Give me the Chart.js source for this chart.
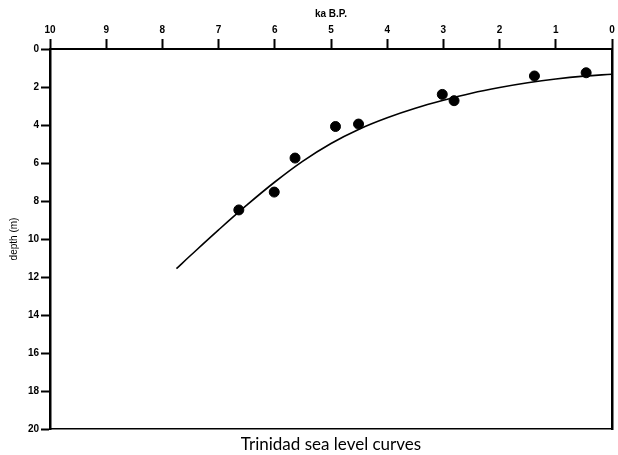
<!DOCTYPE html>
<html>
<head>
<meta charset="utf-8">
<script src="https://cdn.jsdelivr.net/npm/chart.js@4.4.0/dist/chart.umd.min.js"></script>
<style>
  body { margin: 0; background: #fff; }
</style>
</head>
<body>
<canvas id="myChart" width="618" height="455"></canvas>
<script>
// DATA - ages in ka B.P., depth in m
const sampleAge = [6.64, 6.01, 5.64, 4.92, 4.51, 3.02, 2.81, 1.38, 0.46];
const sampleDepth = [8.47, 7.53, 5.74, 4.08, 3.95, 2.39, 2.72, 1.42, 1.25];

// curve (oldest -> youngest)
const curveAge = [7.75, 7.5, 7.0, 6.5, 6.0, 5.5, 5.0, 4.5, 4.0, 3.5, 3.0, 2.5, 2.0, 1.5, 1.0, 0.5, 0];
const curveDepth = [11.56, 10.87, 9.52, 8.22, 7.0, 5.9, 4.97, 4.22, 3.62, 3.12, 2.7, 2.33, 2.03, 1.78, 1.58, 1.43, 1.33];

const ageTicks = [0, 1, 2, 3, 4, 5, 6, 7, 8, 9, 10];
const depthTicks = [0, 2, 4, 6, 8, 10, 12, 14, 16, 18, 20];

const toPoints = (xs, ys) => xs.map((x, i) => ({ x: x, y: ys[i] }));

const tickFont = { family: 'Liberation Sans', size: 10, weight: 'bold' };

const data = {
  datasets: [
    {
      type: 'line',
      label: 'curve',
      data: toPoints(curveAge, curveDepth),
      borderColor: '#000',
      borderWidth: 1.6,
      pointRadius: 0,
      tension: 0.4,
      fill: false
    },
    {
      type: 'scatter',
      label: 'samples',
      data: toPoints(sampleAge, sampleDepth),
      backgroundColor: '#000',
      borderColor: '#000',
      pointRadius: 5,
      pointHoverRadius: 5
    }
  ]
};

const config = {
  type: 'scatter',
  data,
  options: {
    responsive: false,
    animation: false,
    layout: { padding: { right: 2 } },
    plugins: {
      legend: { display: false },
      tooltip: { enabled: false }
    },
    scales: {
      x: {
        type: 'linear',
        position: 'top',
        reverse: true,
        min: 0,
        max: 10,
        afterBuildTicks: (scale) => { scale.ticks = ageTicks.map(v => ({ value: v })); },
        afterFit: (scale) => { scale.height = 49; },
        ticks: { color: '#000', font: tickFont, padding: 3, maxRotation: 0 },
        grid: { drawOnChartArea: false, tickLength: 10, tickColor: '#000', tickWidth: 2 },
        border: { color: '#000', width: 2 },
        title: {
          display: true,
          text: 'ka B.P.',
          color: '#000',
          font: { family: 'Liberation Sans', size: 10, weight: 'bold' },
          padding: { top: 8, bottom: 0 }
        }
      },
      y: {
        type: 'linear',
        position: 'left',
        reverse: true,
        min: 0,
        max: 20,
        afterBuildTicks: (scale) => { scale.ticks = depthTicks.map(v => ({ value: v })); },
        afterFit: (scale) => { scale.width = 50; },
        ticks: { color: '#000', font: tickFont, padding: 2 },
        grid: { drawOnChartArea: false, tickLength: 9, tickColor: '#000', tickWidth: 2 },
        border: { color: '#000', width: 2.5 },
        title: {
          display: true,
          text: 'depth (m)',
          color: '#000',
          font: { family: 'Liberation Sans', size: 10 },
          padding: { top: 8, bottom: 0 }
        }
      },
      x2: {
        type: 'linear',
        position: 'bottom',
        min: 0,
        max: 10,
        afterFit: (scale) => { scale.height = 26; },
        ticks: { display: false },
        grid: { drawOnChartArea: false, drawTicks: false },
        border: { color: '#000', width: 1.5 },
        title: {
          display: true,
          text: 'Trinidad sea level curves',
          color: '#000',
          font: { family: 'Lato', size: 17 },
          padding: { top: 0, bottom: 0 }
        }
      },
      y2: {
        type: 'linear',
        position: 'right',
        min: 0,
        max: 20,
        afterFit: (scale) => { scale.width = 0; },
        ticks: { display: false },
        grid: { drawOnChartArea: false, drawTicks: false },
        border: { color: '#000', width: 2.5 }
      }
    }
  }
};

var chart = document.querySelector('#myChart');
var myChart = new Chart(chart, config);
</script>
</body>
</html>
